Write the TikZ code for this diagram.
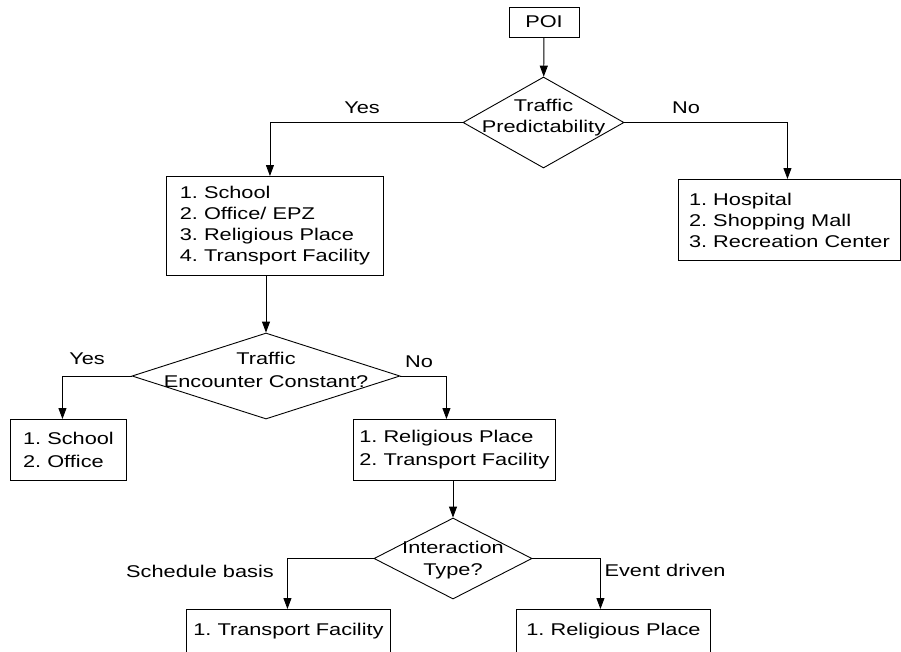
\documentclass[tikz,border=0pt]{standalone}
\usepackage{fontspec}
\setmainfont{Liberation Sans}[FakeStretch=1.28]
\usetikzlibrary{shapes.geometric,arrows.meta}
\frenchspacing

\tikzset{
  listbox/.style={draw, line width=0.9pt, align=left, anchor=north west, inner sep=0pt},
  decision/.style={draw, diamond, line width=0.9pt, inner sep=0pt},
  arr/.style={line width=0.9pt, -{Triangle[length=11pt,width=8pt]}},
  wide/.style={font=\fontsize{17}{23}\selectfont}
}

\begin{document}
\begin{tikzpicture}[x=1pt,y=-1pt,font=\fontsize{17}{21}\selectfont]
\useasboundingbox (0,0) rectangle (901,651);
\clip (0,0) rectangle (901,651);

\node[draw, line width=0.9pt, minimum width=70pt, minimum height=30pt, inner sep=0pt] (poi) at (544,22) {POI};

\node[decision, minimum width=161pt, minimum height=91pt] (pred) at (543.5,122.5) {};
\node[align=center] (predtxt) at (543.5,118) {Traffic\\Predictability};

\node[listbox, minimum width=217pt, minimum height=99pt] (fixed) at (166,176) {1. School\\2. Office/ EPZ\\3. Religious Place\\4. Transport Facility};
\node[listbox, minimum width=222pt, minimum height=81pt] (random) at (678,179) {1. Hospital\\2. Shopping Mall\\3. Recreation Center};

\node[decision, minimum width=268pt, minimum height=86pt] (const) at (266,376) {};
\node[align=center, wide] (consttxt) at (266,370) {Traffic\\Encounter Constant?};

\node[listbox, wide, minimum width=116pt, minimum height=61pt] (steady) at (10,419) {1. School\\2. Office};
\node[listbox, wide, minimum width=202pt, minimum height=61pt] (varying) at (353,419) {1. Religious Place\\2. Transport Facility};

\node[decision, minimum width=158pt, minimum height=81pt] (inter) at (453,558.5) {};
\node[align=center, font=\fontsize{17}{22}\selectfont] (intertxt) at (453,560) {Interaction\\Type?};

\node[listbox, minimum width=204pt, minimum height=44pt] (sched) at (186,609) {1. Transport Facility};
\node[listbox, minimum width=194pt, minimum height=44pt] (event) at (516,609) {1. Religious Place};

\draw[arr] (poi) -- (pred);
\draw[arr] (pred.west) -| ([xshift=-5pt]fixed.north);
\draw[arr] (pred.east) -| ([xshift=-2pt]random.north);
\draw[arr] (fixed.south -| const.north) -- (const.north);
\draw[arr] (const.west) -| ([xshift=-6pt]steady.north);
\draw[arr] (const.east) -| ([xshift=-8pt]varying.north);
\draw[arr] (varying.south -| inter.north) -- (inter.north);
\draw[arr] (inter.west) -| ([xshift=-1pt]sched.north);
\draw[arr] (inter.east) -| ([xshift=-13pt]event.north);

\node (yes1) at (362,108) {Yes};
\node (no1) at (686,108) {No};
\node (yes2) at (87,359) {Yes};
\node (no2) at (419,362) {No};
\node (schedlbl) at (200,571) {Schedule basis};
\node (eventlbl) at (665,570) {Event driven};
\end{tikzpicture}
\end{document}
